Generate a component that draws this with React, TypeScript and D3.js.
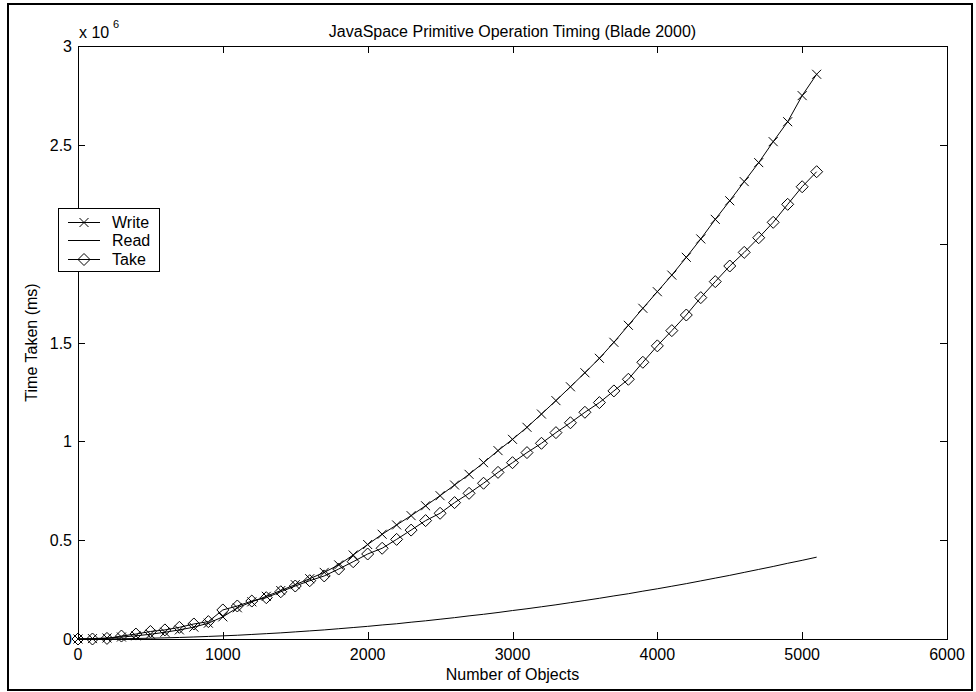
import React from "react";
import * as d3 from "d3";

const xValues: number[] = [
  0, 100, 200, 300, 400, 500, 600, 700, 800, 900, 1000, 1100, 1200, 1300, 1400, 1500, 1600, 1700, 1800, 1900,
  2000, 2100, 2200, 2300, 2400, 2500, 2600, 2700, 2800, 2900, 3000, 3100, 3200, 3300, 3400, 3500, 3600, 3700, 3800, 3900,
  4000, 4100, 4200, 4300, 4400, 4500, 4600, 4700, 4800, 4900, 5000, 5100,
];

// values in units of 10^6 ms
const writeValues: number[] = [
  0, 0.002, 0.005, 0.01, 0.016, 0.024, 0.034, 0.046, 0.06, 0.08, 0.112, 0.158, 0.188, 0.216, 0.245, 0.275, 0.305, 0.337, 0.375, 0.425,
  0.478, 0.53, 0.577, 0.624, 0.674, 0.725, 0.779, 0.833, 0.892, 0.953, 1.01, 1.071, 1.138, 1.206, 1.276, 1.347, 1.42, 1.501, 1.587, 1.673,
  1.757, 1.841, 1.931, 2.024, 2.123, 2.217, 2.314, 2.41, 2.516, 2.617, 2.749, 2.857,
];

const readValues: number[] = [
  0, 0.0002, 0.0006, 0.0014, 0.0026, 0.004, 0.0058, 0.0078, 0.0102, 0.013, 0.016, 0.019, 0.023, 0.027, 0.031, 0.036, 0.041, 0.046, 0.052, 0.058,
  0.064, 0.071, 0.077, 0.085, 0.092, 0.1, 0.108, 0.117, 0.125, 0.134, 0.144, 0.153, 0.163, 0.173, 0.184, 0.195, 0.206, 0.218, 0.229, 0.242,
  0.254, 0.267, 0.28, 0.294, 0.308, 0.322, 0.337, 0.352, 0.367, 0.383, 0.398, 0.414,
];

const takeValues: number[] = [
  0, 0, 0.003, 0.015, 0.025, 0.038, 0.046, 0.059, 0.076, 0.088, 0.147, 0.167, 0.192, 0.209, 0.239, 0.268, 0.295, 0.319, 0.354, 0.391,
  0.43, 0.459, 0.504, 0.551, 0.599, 0.636, 0.69, 0.737, 0.788, 0.843, 0.892, 0.943, 0.99, 1.044, 1.094, 1.147, 1.196, 1.255, 1.314, 1.4,
  1.483, 1.56, 1.639, 1.727, 1.808, 1.887, 1.956, 2.03, 2.108, 2.199, 2.288, 2.364,
];

const xTicks: number[] = [0, 1000, 2000, 3000, 4000, 5000, 6000];
const yTicks: number[] = [0, 0.5, 1, 1.5, 2, 2.5, 3];
const yTickLabels: string[] = ["0", "0.5", "1", "1.5", "2", "2.5", "3"];
const legendLabels: string[] = ["Write", "Read", "Take"];

const W = 976;
const H = 692;
const left = 78;
const right = 947;
const top = 46;
const bottom = 639;
const FONT = "'Liberation Sans', Arial, Helvetica, sans-serif";
const FS = 16;

export default function App() {
  const x = d3.scaleLinear().domain([0, 6000]).range([left, right]);
  const y = d3.scaleLinear().domain([0, 3]).range([bottom, top]);

  const line = (vals: number[]) =>
    d3
      .line<number>()
      .x((_, i) => x(xValues[i]))
      .y((v) => y(v))(vals) || "";

  const cross = (cx: number, cy: number, k: string) => (
    <path
      key={k}
      d={`M${cx - 4.5},${cy - 4.5}L${cx + 4.5},${cy + 4.5}M${cx - 4.5},${cy + 4.5}L${cx + 4.5},${cy - 4.5}`}
      stroke="#000"
      strokeWidth={1}
      fill="none"
    />
  );
  const diamond = (cx: number, cy: number, k: string) => (
    <path
      key={k}
      d={`M${cx},${cy - 6}L${cx + 6},${cy}L${cx},${cy + 6}L${cx - 6},${cy}Z`}
      stroke="#000"
      strokeWidth={1}
      fill="none"
    />
  );

  const tickLen = 7;
  const legX = 58;
  const legY = 208;
  const legRowY = [222, 240, 259];

  return (
    <div style={{ position: "absolute", left: 0, top: 0 }}>
      <svg width={W} height={H} style={{ display: "block", background: "#fff" }} fontFamily={FONT}>
        <rect x={0} y={0} width={W} height={H} fill="#fff" />
        {/* outer frame */}
        <rect x={8} y={4} width={964} height={686} fill="none" stroke="#000" strokeWidth={2} />

        {/* axes box */}
        <rect x={left + 0.5} y={top + 0.5} width={right - left} height={bottom - top} fill="none" stroke="#000" strokeWidth={1} />

        {/* x ticks */}
        {xTicks.map((t) => {
          const px = Math.round(x(t)) + 0.5;
          return (
            <g key={"xt" + t}>
              <line x1={px} x2={px} y1={bottom} y2={bottom - tickLen} stroke="#000" />
              <line x1={px} x2={px} y1={top} y2={top + tickLen} stroke="#000" />
              <text x={x(t)} y={660} fontSize={FS} textAnchor="middle" fill="#000">
                {String(t)}
              </text>
            </g>
          );
        })}
        {/* y ticks */}
        {yTicks.map((t, i) => {
          const py = Math.round(y(t)) + 0.5;
          return (
            <g key={"yt" + t}>
              <line x1={left} x2={left + tickLen} y1={py} y2={py} stroke="#000" />
              <line x1={right} x2={right - tickLen} y1={py} y2={py} stroke="#000" />
              <text x={72} y={y(t) + 6} fontSize={FS} textAnchor="end" fill="#000">
                {yTickLabels[i]}
              </text>
            </g>
          );
        })}

        {/* exponent */}
        <text x={79} y={38} fontSize={FS} fill="#000">
          x 10
        </text>
        <text x={113} y={28} fontSize={11} fill="#000">
          6
        </text>

        {/* title & labels */}
        <text x={(left + right) / 2} y={37} fontSize={FS} textAnchor="middle" fill="#000">
          JavaSpace Primitive Operation Timing (Blade 2000)
        </text>
        <text x={(left + right) / 2} y={680} fontSize={FS} textAnchor="middle" fill="#000">
          Number of Objects
        </text>
        <text
          transform={`translate(37,${(top + bottom) / 2}) rotate(-90)`}
          fontSize={FS}
          textAnchor="middle"
          fill="#000"
        >
          Time Taken (ms)
        </text>

        {/* series */}
        <path d={line(writeValues)} fill="none" stroke="#000" strokeWidth={1} />
        {writeValues.map((v, i) => cross(x(xValues[i]), y(v), "w" + i))}
        <path d={line(readValues)} fill="none" stroke="#000" strokeWidth={1} />
        <path d={line(takeValues)} fill="none" stroke="#000" strokeWidth={1} />
        {takeValues.map((v, i) => diamond(x(xValues[i]), y(v), "t" + i))}

        {/* legend */}
        <rect x={legX + 0.5} y={legY + 0.5} width={101} height={63} fill="#fff" stroke="#000" strokeWidth={1} />
        {legendLabels.map((lab, i) => (
          <g key={"lg" + i}>
            <line x1={68} x2={100} y1={legRowY[i] + 0.5} y2={legRowY[i] + 0.5} stroke="#000" />
            {i === 0 && cross(84, legRowY[i] + 0.5, "lc")}
            {i === 2 && diamond(84, legRowY[i] + 0.5, "ld")}
            <text x={112} y={legRowY[i] + 6} fontSize={FS} fill="#000">
              {lab}
            </text>
          </g>
        ))}
      </svg>
    </div>
  );
}
